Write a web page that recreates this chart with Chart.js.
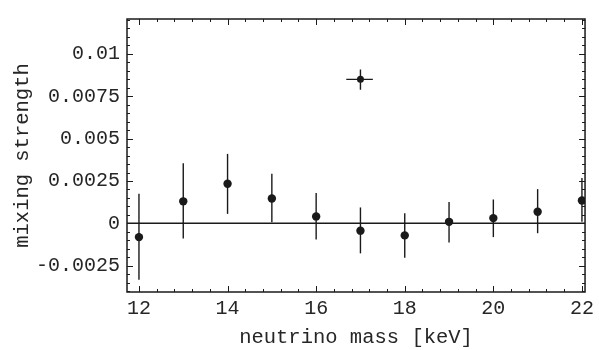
<!DOCTYPE html>
<html>
<head>
<meta charset="utf-8">
<script src="https://cdn.jsdelivr.net/npm/chart.js@4/dist/chart.umd.min.js"></script>
<style>
html,body{margin:0;padding:0;background:#fff;}
#wrap{width:599px;height:350px;position:relative;}
</style>
</head>
<body>
<div id="wrap"><canvas id="c" width="599" height="350"></canvas></div>
<script>
// Data
const masses   = [12, 13, 14, 15, 16, 17, 18, 19, 20, 21, 22];
const strength = [-0.00081, 0.0013, 0.00234, 0.00147, 0.00041, -0.00043, -0.00071, 0.00009, 0.00031, 0.00069, 0.00135];
const errHigh  = [0.00175, 0.00355, 0.0041, 0.00293, 0.00179, 0.00094, 0.0006, 0.00126, 0.00141, 0.00202, 0.00268];
const errLow   = [-0.00332, -0.0009, 0.00056, 0.00007, -0.00095, -0.00177, -0.00203, -0.00113, -0.00081, -0.00058, 0.00009];
// special point (cross) at 17 keV
const crossX   = [17];
const crossY   = [0.0085];
const crossXLo = [16.68];
const crossXHi = [17.28];
const crossYLo = [0.00789];
const crossYHi = [0.00908];
const xTicks   = [12, 14, 16, 18, 20, 22];
const yTicks   = [-0.0025, 0, 0.0025, 0.005, 0.0075, 0.01];
const yTickLabels = ['-0.0025', '0', '0.0025', '0.005', '0.0075', '0.01'];

const INK = '#1a1a1a';
const TXT = '#262626';
const FONT = "'Liberation Mono', 'DejaVu Sans Mono', monospace";

const framePlugin = {
  id: 'frameTicks',
  beforeDatasetsDraw(chart) {
    const {ctx, chartArea: a, scales: {x, y}} = chart;
    ctx.save();
    ctx.strokeStyle = INK;
    // zero line
    ctx.lineWidth = 1.5;
    const y0 = y.getPixelForValue(0);
    ctx.beginPath(); ctx.moveTo(a.left, y0); ctx.lineTo(a.right, y0); ctx.stroke();
    // error bars
    ctx.lineWidth = 1.4;
    masses.forEach((m, i) => {
      const px = x.getPixelForValue(m);
      ctx.beginPath();
      ctx.moveTo(px, y.getPixelForValue(errHigh[i]));
      ctx.lineTo(px, y.getPixelForValue(errLow[i]));
      ctx.stroke();
    });
    crossX.forEach((m, i) => {
      const px = x.getPixelForValue(m), py = y.getPixelForValue(crossY[i]);
      ctx.beginPath();
      ctx.moveTo(px, y.getPixelForValue(crossYHi[i]));
      ctx.lineTo(px, y.getPixelForValue(crossYLo[i]));
      ctx.moveTo(x.getPixelForValue(crossXLo[i]), py);
      ctx.lineTo(x.getPixelForValue(crossXHi[i]), py);
      ctx.stroke();
    });
    ctx.restore();
  },
  afterDraw(chart) {
    const {ctx, chartArea: a, scales: {x, y}} = chart;
    ctx.save();
    ctx.strokeStyle = INK;
    ctx.lineWidth = 1.5;
    ctx.strokeRect(a.left, a.top, a.right - a.left, a.bottom - a.top);
    ctx.lineWidth = 1;
    // x ticks (major + minor every 0.4)
    for (let k = 0; k <= 25; k++) {
      const v = 12 + k * 0.4;
      const major = k % 5 === 0;
      const len = major ? 6 : 3;
      const px = Math.round(x.getPixelForValue(v)) + 0.5;
      ctx.beginPath();
      ctx.moveTo(px, a.bottom); ctx.lineTo(px, a.bottom - len);
      ctx.moveTo(px, a.top); ctx.lineTo(px, a.top + len);
      ctx.stroke();
    }
    // y ticks (major every 0.0025, minor every 0.0005)
    for (let k = -8; k <= 24; k++) {
      const v = k * 0.0005;
      const major = k % 5 === 0;
      const len = major ? 6 : 3;
      const py = Math.round(y.getPixelForValue(v)) + 0.5;
      if (py < a.top || py > a.bottom) continue;
      ctx.beginPath();
      ctx.moveTo(a.left, py); ctx.lineTo(a.left + len, py);
      ctx.moveTo(a.right, py); ctx.lineTo(a.right - len, py);
      ctx.stroke();
    }
    ctx.restore();
  }
};

new Chart(document.getElementById('c'), {
  type: 'scatter',
  data: {
    datasets: [
      {
        data: masses.map((m, i) => ({x: m, y: strength[i]})),
        pointRadius: 4.2,
        pointBackgroundColor: INK,
        pointBorderWidth: 0,
        showLine: false
      },
      {
        data: crossX.map((m, i) => ({x: m, y: crossY[i]})),
        pointRadius: 3.5,
        pointBackgroundColor: INK,
        pointBorderWidth: 0,
        showLine: false
      }
    ]
  },
  options: {
    responsive: false,
    animation: false,
    events: [],
    layout: {padding: {left: 0, top: 9, right: 9, bottom: 0}},
    plugins: {legend: {display: false}, tooltip: {enabled: false}},
    scales: {
      x: {
        type: 'linear',
        min: 11.73, max: 22.07,
        afterFit(s) { s.height = 58; },
        afterBuildTicks(s) { s.ticks = xTicks.map(v => ({value: v})); },
        grid: {display: false, drawTicks: false},
        border: {display: false},
        ticks: {
          color: TXT, padding: 5, maxRotation: 0, autoSkip: false,
          font: {family: FONT, size: 20}
        },
        title: {
          display: true, text: 'neutrino mass [keV]', color: TXT,
          font: {family: FONT, size: 20.5}, padding: {top: 0, bottom: 0}
        }
      },
      y: {
        type: 'linear',
        min: -0.00405, max: 0.01206,
        afterFit(s) { s.width = 127; },
        afterBuildTicks(s) { s.ticks = yTicks.map(v => ({value: v})); },
        grid: {display: false, drawTicks: false},
        border: {display: false},
        ticks: {
          color: TXT, padding: 7, autoSkip: false,
          font: {family: FONT, size: 20},
          callback(v) { const i = yTicks.findIndex(t => Math.abs(t - v) < 1e-9); return i >= 0 ? yTickLabels[i] : ''; }
        },
        title: {
          display: true, text: 'mixing strength', color: TXT,
          font: {family: FONT, size: 20.5}, padding: {top: 10, bottom: 0}
        }
      }
    }
  },
  plugins: [framePlugin]
});
</script>
</body>
</html>
